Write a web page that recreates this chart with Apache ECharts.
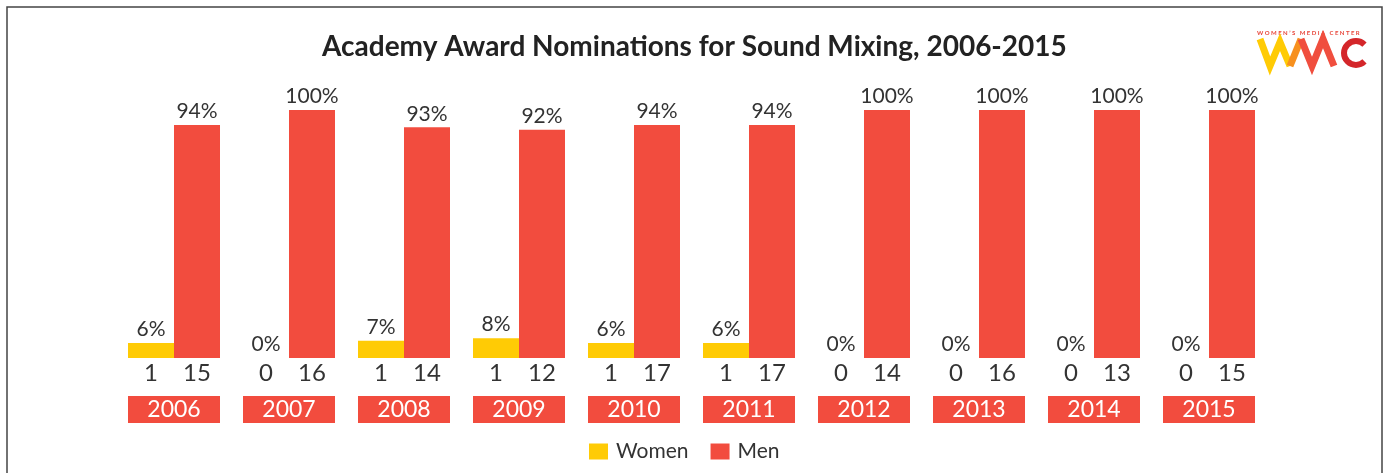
<!DOCTYPE html>
<html>
<head>
<meta charset="utf-8">
<script src="https://cdn.jsdelivr.net/npm/echarts@6/dist/echarts.min.js"></script>
<style>
  html, body { margin: 0; padding: 0; background: #fff; }
</style>
</head>
<body>
<div id="chart" style="width: 1384px; height: 473px"></div>
<script>
// data
const years = ['2006', '2007', '2008', '2009', '2010', '2011', '2012', '2013', '2014', '2015']
const womenPct = [6, 0, 7, 8, 6, 6, 0, 0, 0, 0]
const menPct = [94, 100, 93, 92, 94, 94, 100, 100, 100, 100]
const womenCount = [1, 0, 1, 1, 1, 1, 0, 0, 0, 0]
const menCount = [15, 16, 14, 12, 17, 17, 14, 16, 13, 15]

const YELLOW = '#ffcb05'
const RED = '#f24c3e'
const TEXT = '#333333'
const FONT = 'Lato'

const chart = echarts.init(document.getElementById('chart'))

// count numbers under each bar
const renderCounts = (params, api) => {
    const idx = api.value(0)
    const base = api.coord([idx, 0])
    const band = api.size([1, 0])[0]
    const mk = (x, txt) => ({
        type: 'text',
        style: {
            x: x, y: base[1] + 15,
            text: String(txt),
            fill: TEXT,
            font: '24px ' + FONT,
            textAlign: 'center',
            textVerticalAlign: 'middle'
        }
    })
    return {
        type: 'group',
        children: [
            mk(base[0] - band * 0.2, api.value(1)),
            mk(base[0] + band * 0.2, api.value(2))
        ]
    }
}

chart.setOption({
    animation: false,
    textStyle: { fontFamily: FONT },
    title: {
        text: 'Academy Award Nominations for Sound Mixing, 2006-2015',
        left: 317,
        top: 28,
        textStyle: { fontSize: 28, fontWeight: 'bold', color: '#222', fontFamily: FONT }
    },
    legend: {
        data: ['Women', 'Men'],
        left: 584,
        top: 436,
        itemWidth: 19,
        itemHeight: 16,
        itemGap: 22,
        icon: 'rect',
        textStyle: { fontSize: 21, color: TEXT, fontFamily: FONT, padding: [0, 0, 0, 3] }
    },
    grid: { left: 116.5, width: 1150, top: 110, bottom: 115 },
    xAxis: {
        type: 'category',
        data: years,
        axisLine: { show: false },
        axisTick: { show: false },
        axisLabel: {
            margin: 38,
            color: '#fff',
            fontSize: 23,
            fontFamily: FONT,
            backgroundColor: RED,
            width: 92,
            height: 27,
            lineHeight: 27,
            align: 'center',
            padding: 0
        }
    },
    yAxis: { type: 'value', min: 0, max: 100, show: false },
    series: [
        {
            name: 'Women',
            type: 'bar',
            data: womenPct,
            itemStyle: { color: YELLOW },
            barGap: '0%',
            barCategoryGap: '20%',
            label: {
                show: true, position: 'top', distance: 3,
                formatter: '{c}%', fontSize: 21, color: TEXT, fontFamily: FONT
            }
        },
        {
            name: 'Men',
            type: 'bar',
            data: menPct,
            itemStyle: { color: RED },
            label: {
                show: true, position: 'top', distance: 3,
                formatter: '{c}%', fontSize: 21, color: TEXT, fontFamily: FONT
            }
        },
        {
            type: 'custom',
            clip: false,
            silent: true,
            renderItem: renderCounts,
            data: years.map((y, i) => [i, womenCount[i], menCount[i]])
        }
    ],
    graphic: [
        {
            type: 'rect',
            shape: { x: 7, y: 7, width: 1375, height: 490 },
            style: { fill: 'none', stroke: '#444', lineWidth: 1.5 },
            silent: true
        },
        // WMC logo
        {
            type: 'text',
            style: {
                x: 1257, y: 33, text: 'W O M E N \u2019 S   M E D I A   C E N T E R',
                font: 'bold 6px ' + FONT, fill: '#e8463a', textVerticalAlign: 'middle'
            }
        },
        {
            type: 'polyline',
            shape: { points: [[1260, 39], [1270, 66], [1280, 42], [1290, 66]] },
            style: { stroke: YELLOW, lineWidth: 7, fill: 'none' }
        },
        {
            type: 'polyline',
            shape: { points: [[1290, 66], [1301, 39]] },
            style: { stroke: '#f7901e', lineWidth: 7, fill: 'none' }
        },
        {
            type: 'polyline',
            shape: { points: [[1301, 39], [1312, 66], [1323, 39], [1334, 66]] },
            style: { stroke: '#f04e3e', lineWidth: 7, fill: 'none' }
        },
        {
            type: 'arc',
            shape: { cx: 1356, cy: 53, r: 12, startAngle: Math.PI / 4, endAngle: -Math.PI / 4, clockwise: true },
            style: { stroke: '#d4262a', lineWidth: 6, fill: 'none' }
        }
    ]
})
</script>
</body>
</html>
